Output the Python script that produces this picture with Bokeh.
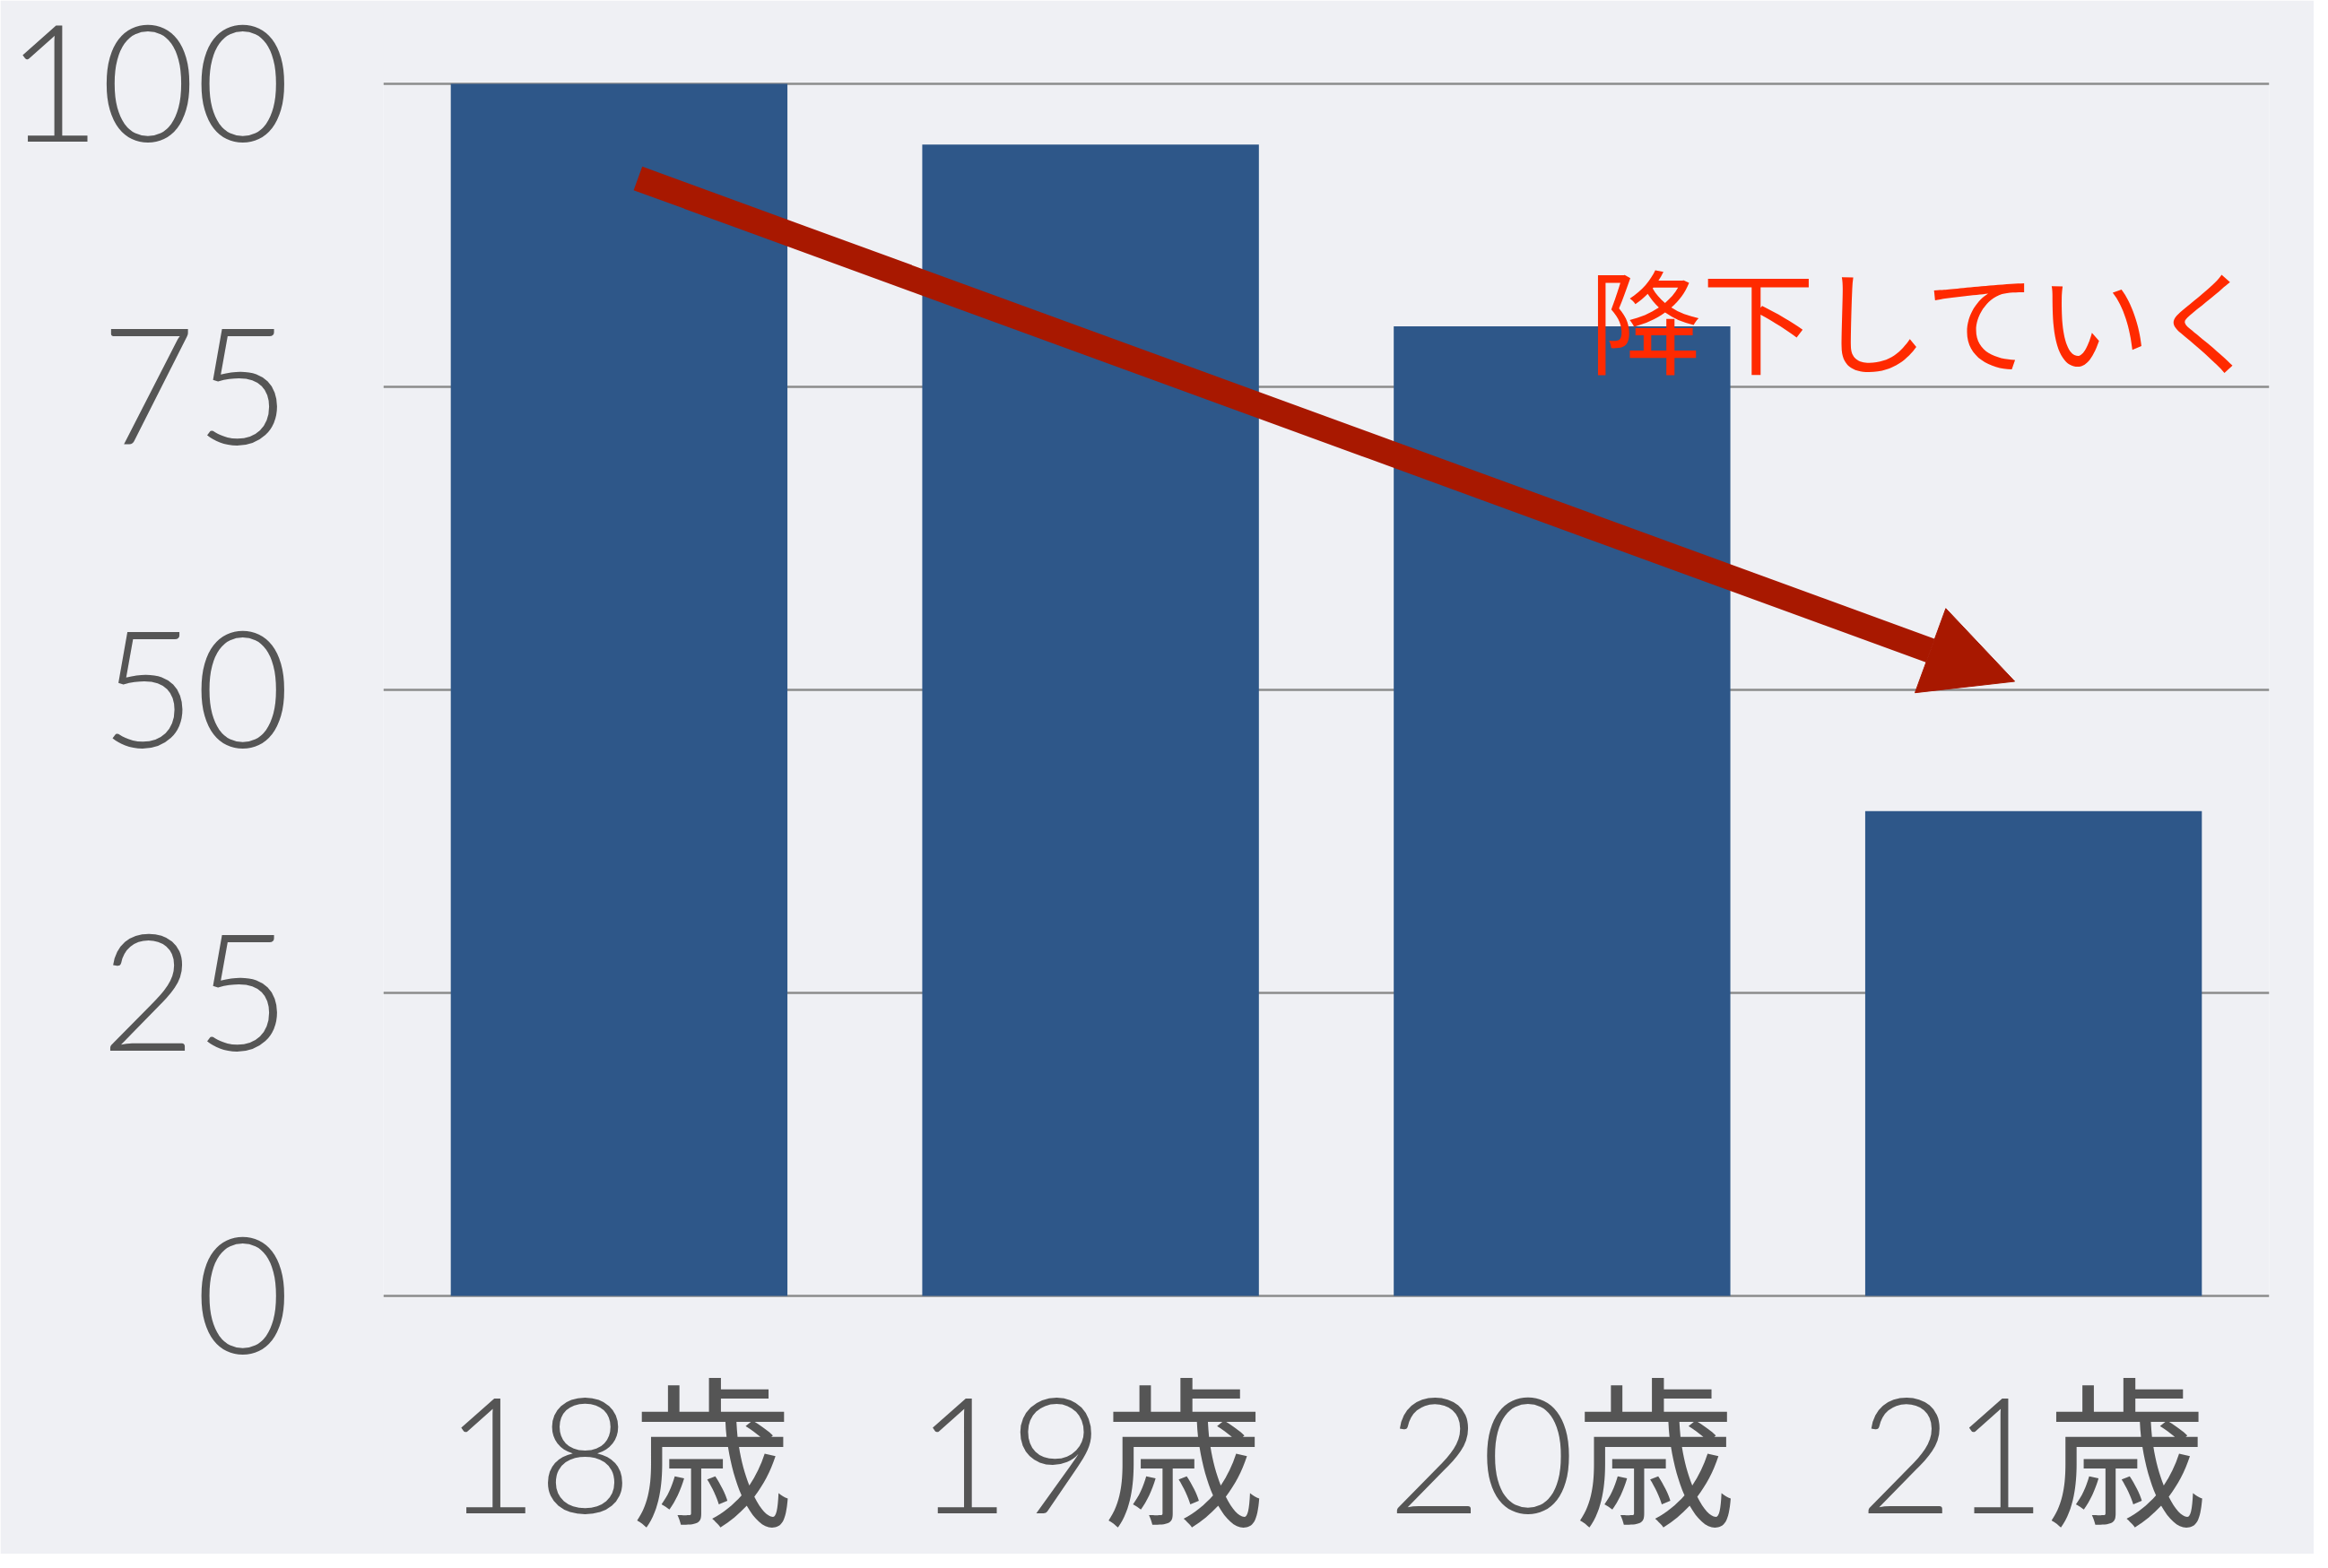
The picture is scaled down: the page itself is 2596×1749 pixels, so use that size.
from bokeh.plotting import figure
from bokeh.models import FixedTicker, Arrow, NormalHead, Label, Range1d
from bokeh.embed import file_html
from bokeh.resources import INLINE

# ---- data ----
categories = ["18歳", "19歳", "20歳", "21歳"]
values = [100, 95, 80, 40]
y_ticks = [0, 25, 50, 75, 100]
annotation_text = "降下していく"
# trend arrow (synthetic categorical x, value y)
arrow_x = [0.54, 3.46]
arrow_y = [92.2, 50.7]
annotation_pos = [2.557, 80.8]

BG = "#eff0f4"
BAR = "#2e5789"
LABEL = "#555555"
GRID = "#8c8c8c"
ARROW = "#a81800"
TEXT_RED = "#ff2a00"
FONT = "'Lato Light', 'Noto Sans CJK JP'"

p = figure(
    x_range=categories,
    y_range=Range1d(-0.15, 100.15),
    width=2580,
    height=1733,
    output_backend="svg",
    toolbar_location=None,
    min_border_left=427,
    min_border_right=50,
    min_border_top=91,
    min_border_bottom=286,
)
p.background_fill_color = BG
p.border_fill_color = BG
p.outline_line_color = None

p.vbar(x=categories, top=values, width=0.714, color=BAR, line_color=None)

p.xgrid.grid_line_color = None
p.ygrid.grid_line_color = GRID
p.ygrid.grid_line_width = 2.5

p.yaxis.ticker = FixedTicker(ticks=y_ticks)
for ax in (p.xaxis, p.yaxis):
    ax.axis_line_color = None
    ax.major_tick_line_color = None
    ax.minor_tick_line_color = None
    ax.major_tick_out = 0
    ax.major_tick_in = 0
    ax.major_label_text_font = FONT
    ax.major_label_text_color = LABEL

p.yaxis.major_label_text_font_size = "182px"
p.yaxis.major_label_standoff = 104
p.xaxis.major_label_text_font_size = "180px"
p.xaxis.major_label_standoff = 62

p.add_layout(Arrow(
    end=NormalHead(size=100, fill_color=ARROW, line_color=ARROW),
    x_start=arrow_x[0], y_start=arrow_y[0],
    x_end=arrow_x[1], y_end=arrow_y[1],
    line_color=ARROW, line_width=28,
))

p.add_layout(Label(
    x=annotation_pos[0], y=annotation_pos[1], text=annotation_text,
    text_font="Noto Sans CJK JP", text_font_size="126px",
    text_color=TEXT_RED, text_baseline="middle", text_align="left",
))

html = file_html(p, INLINE)
html = html.replace("<body>", '<body style="background:%s">' % BG, 1)
open("out.html", "w").write(html)
